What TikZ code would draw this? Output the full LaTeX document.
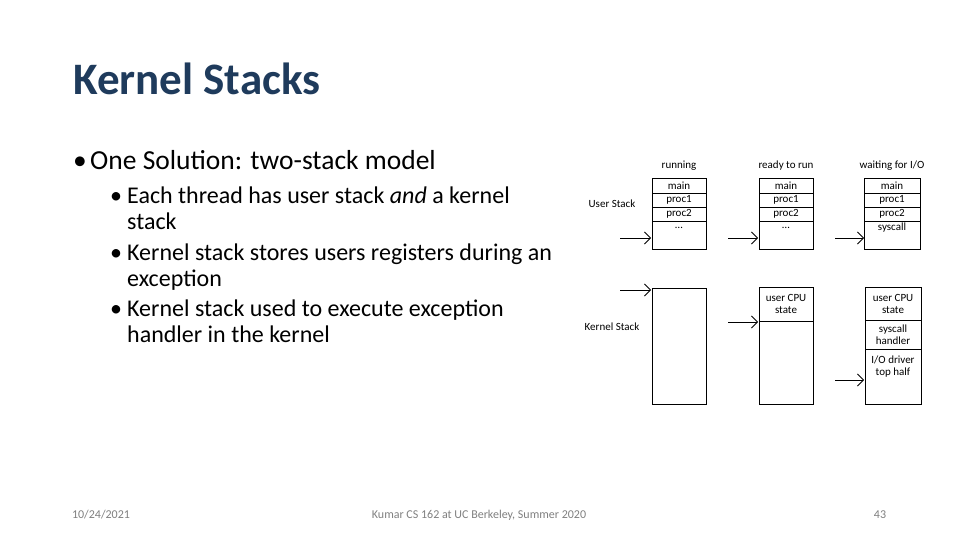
\documentclass[tikz,border=0pt]{standalone}
\usepackage{fontspec}
\setmainfont{Carlito}
\usetikzlibrary{arrows.meta}
\definecolor{titleblue}{HTML}{1F3B5C}
\definecolor{footgray}{HTML}{7F7F7F}
\begin{document}
\begin{tikzpicture}[x=1pt,y=-1pt,
  cell/.style={draw,line width=0.8pt},
  lab/.style={font=\fontsize{11}{12}\selectfont,inner sep=0pt},
  ptr/.style={-{Straight Barb[length=6pt,width=12pt]},line width=0.8pt},
  body/.style={anchor=base west,inner sep=0pt,font=\fontsize{27.5}{30}\selectfont},
  sub/.style={anchor=base west,inner sep=0pt,font=\fontsize{24}{28}\selectfont},
  foot/.style={inner sep=0pt,text=footgray,font=\fontsize{12}{14}\selectfont}]
\useasboundingbox (0,0) rectangle (960,540);
\node[anchor=base west,inner sep=0pt,text=titleblue,font=\fontsize{45}{50}\selectfont] (title) at (73,95) {\textbf{Kernel Stacks}};
\node[body] (bb1) at (73,170) {•};
\node[body] (b1) at (90,170) {One Solution: two-stack model};
\foreach \n/\y in {1/203,2/260,3/316}
  \node[sub] (bl\n) at (110,\y) {•};
\node[sub] (s1) at (127,203) {Each thread has user stack \emph{and} a kernel};
\node[sub] (s1b) at (127,229) {stack};
\node[sub] (s2) at (127,260) {Kernel stack stores users registers during an};
\node[sub] (s2b) at (127,286) {exception};
\node[sub] (s3) at (127,316) {Kernel stack used to execute exception};
\node[sub] (s3b) at (127,342) {handler in the kernel};
% headings
\node[lab] (h1) at (679,166) {running};
\node[lab] (h2) at (786,166) {ready to run};
\node[lab] (h3) at (892,166) {waiting for I/O};
\node[lab] (us) at (612,204) {User Stack};
\node[lab] (ks) at (612,327) {Kernel Stack};
% user stacks
\foreach \c/\xl/\xr/\last in {1/652/706/\dots,2/759/813/\dots,3/864/920/syscall}{
  \draw[cell] (\xl,178) rectangle (\xr,249);
  \draw[cell] (\xl,193) -- (\xr,193);
  \draw[cell] (\xl,207) -- (\xr,207);
  \draw[cell] (\xl,221) -- (\xr,221);
  \node[lab] (m\c) at ({(\xl+\xr)/2},185.5) {main};
  \node[lab] (p\c) at ({(\xl+\xr)/2},200) {proc1};
  \node[lab] (q\c) at ({(\xl+\xr)/2},214) {proc2};
  \node[lab] (l\c) at ({(\xl+\xr)/2},228) {\last};
}
% kernel stacks
\draw[cell] (652,288) rectangle (706,404);
\draw[cell] (759,287) rectangle (813,404);
\draw[cell] (759,321) -- (813,321);
\node[lab,align=center] (k2a) at (786,304) {user CPU\\state};
\draw[cell] (865,287) rectangle (921,404);
\draw[cell] (865,320) -- (921,320);
\draw[cell] (865,349) -- (921,349);
\node[lab,align=center] (k3a) at (893,304) {user CPU\\state};
\node[lab,align=center] (k3b) at (893,335) {syscall\\handler};
\node[lab,align=center,anchor=north] (k3c) at (893,356) {I/O driver\\top half};
% pointers
\coordinate (a1) at (620,238); \coordinate (a1e) at (651,238);
\coordinate (a2) at (728,238); \coordinate (a2e) at (758,238);
\coordinate (a3) at (835,238); \coordinate (a3e) at (864,238);
\coordinate (b1s) at (620,290); \coordinate (b1e) at (651,290);
\coordinate (b2s) at (728,322); \coordinate (b2e) at (758,322);
\coordinate (b3s) at (835,380); \coordinate (b3e) at (864,380);
\foreach \s/\e in {a1/a1e,a2/a2e,a3/a3e,b1s/b1e,b2s/b2e,b3s/b3e}
  \draw[ptr] (\s) -- (\e);
% footer
\node[foot] (f1) at (101,515) {10/24/2021};
\node[foot] (f2) at (479,515) {Kumar CS 162 at UC Berkeley, Summer 2020};
\node[foot] (f3) at (880,515) {43};
\end{tikzpicture}
\end{document}
